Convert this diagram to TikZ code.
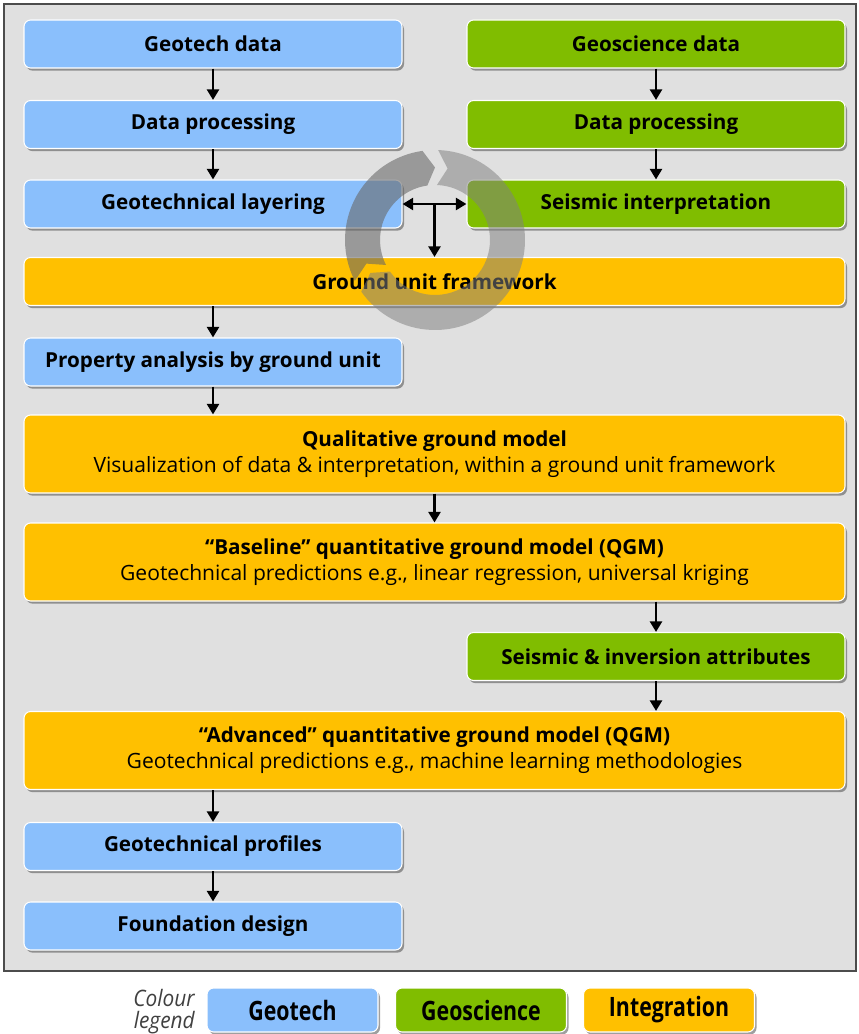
\documentclass[tikz,border=0pt]{standalone}
\usepackage{fontspec}
\setmainfont{Open Sans}
\newfontfamily\legendfont[FakeStretch=0.8]{Open Sans}
\newfontfamily\captionfont[FakeStretch=0.92]{Open Sans}
\usepackage{tikz}
\usetikzlibrary{arrows.meta,calc,shadows}
\definecolor{geotechBlue}{RGB}{138,191,252}
\definecolor{geoscienceGreen}{RGB}{128,189,0}
\definecolor{integrationOrange}{RGB}{255,192,0}
\definecolor{panelGrey}{RGB}{224,224,224}
\newcommand{\boxWidth}{283.5pt}
\newcommand{\fullWidth}{615.75pt}

\tikzset{
	stepBox/.style={rounded corners=5pt, draw=white, line width=0.8pt, minimum height=36pt, inner sep=2pt, align=center,
		font=\bfseries\fontsize{15.5}{19.5}\selectfont,
		drop shadow={shadow xshift=1.5pt, shadow yshift=-2pt, opacity=0.5, fill=black!75}},
	geotechBox/.style={stepBox, fill=geotechBlue, minimum width=\boxWidth},
	geoscienceBox/.style={stepBox, fill=geoscienceGreen, minimum width=\boxWidth},
	integrationBox/.style={stepBox, fill=integrationOrange, minimum width=\fullWidth},
	twoLine/.style={minimum height=58.5pt},
	legendKey/.style={minimum width=128.25pt, minimum height=33pt, font=\legendfont\bfseries\fontsize{20}{22}\selectfont},
	flowArrow/.style={-{Triangle[length=8pt,width=9pt]}, line width=2.2pt},
	flowBoth/.style={{Triangle[length=8pt,width=9pt]}-{Triangle[length=8pt,width=9pt]}, line width=2.2pt},
}

\begin{document}
\begin{tikzpicture}[x=0.75pt, y=-0.75pt]
	\useasboundingbox (0,0) rectangle (859,1034);
	% background panel
	\draw[fill=panelGrey, draw=black!70, line width=1pt] (4,4) rectangle (856,971);

	% geotech column
	\node[geotechBox] (geotechData) at (213,44) {Geotech data};
	\node[geotechBox] (geotechProc) at (213,124.5) {Data processing};
	\node[geotechBox] (geotechLayer) at (213,204) {Geotechnical layering};
	% geoscience column
	\node[geoscienceBox] (sciData) at (656,44) {Geoscience data};
	\node[geoscienceBox] (sciProc) at (656,124.5) {Data processing};
	\node[geoscienceBox] (sciInterp) at (656,204) {Seismic interpretation};

	\node[integrationBox] (unitFramework) at (434.5,281.5) {Ground unit framework};
	\node[geotechBox] (propAnalysis) at (213,362) {Property analysis by ground unit};
	\node[integrationBox, twoLine] (qualModel) at (434.5,454) {Qualitative ground model\\{\mdseries\fontsize{15.8}{19.5}\selectfont Visualization of data \& interpretation, within a ground unit framework}};
	\node[integrationBox, twoLine] (baseModel) at (434.5,562) {“Baseline” quantitative ground model (QGM)\\{\mdseries\fontsize{15.8}{19.5}\selectfont Geotechnical predictions e.g., linear regression, universal kriging}};
	\node[geoscienceBox] (inversion) at (656,656.5) {Seismic \& inversion attributes};
	\node[integrationBox, twoLine] (advModel) at (434.5,750.5) {“Advanced” quantitative ground model (QGM)\\{\mdseries\fontsize{15.8}{19.5}\selectfont Geotechnical predictions e.g., machine learning methodologies}};
	\node[geotechBox] (geoProfiles) at (213,846.5) {Geotechnical profiles};
	\node[geotechBox] (foundation) at (213,926) {Foundation design};

	% iteration ring
	\begin{scope}[shift={(435,240)}]
		\fill[black!60, opacity=0.58] (207:67.5pt) arc[start angle=207, end angle=98, radius=67.5pt] -- (90:54.4pt)
			-- (98:41.25pt) arc[start angle=98, end angle=207, radius=41.25pt] -- (199:54.4pt) -- cycle;
		\fill[black!50, opacity=0.52] (88:67.5pt) arc[start angle=88, end angle=-145, radius=67.5pt] -- (-153:54.4pt)
			-- (-145:41.25pt) arc[start angle=-145, end angle=88, radius=41.25pt] -- (80:54.4pt) -- cycle;
	\end{scope}

	% connectors
	\draw[flowArrow] (geotechData) -- (geotechProc);
	\draw[flowArrow] (geotechProc) -- (geotechLayer);
	\draw[flowArrow] (sciData) -- (sciProc);
	\draw[flowArrow] (sciProc) -- (sciInterp);
	\draw[flowBoth] (geotechLayer) -- (sciInterp);
	\coordinate (junction) at ($(geotechLayer.east)!0.5!(sciInterp.west)$);
	\draw[flowArrow] (junction) -- (junction |- unitFramework.north);
	\draw[flowArrow] (unitFramework.south -| propAnalysis) -- (propAnalysis);
	\draw[flowArrow] (propAnalysis) -- (propAnalysis |- qualModel.north);
	\draw[flowArrow] (qualModel) -- (baseModel);
	\draw[flowArrow] (baseModel.south -| inversion) -- (inversion);
	\draw[flowArrow] (inversion) -- (inversion |- advModel.north);
	\draw[flowArrow] (advModel.south -| geoProfiles) -- (geoProfiles);
	\draw[flowArrow] (geoProfiles) -- (foundation);

	% legend
	\node[anchor=east, align=right, inner sep=0pt, text=black!75, font=\captionfont\itshape\fontsize{17}{16.5}\selectfont] (legendLabel) at (195,1012) {Colour\\legend};
	\node[geotechBox, legendKey] (keyGeotech) at (292.5,1010) {Geotech};
	\node[geoscienceBox, legendKey] (keyGeoscience) at (481,1010) {Geoscience};
	\node[integrationBox, legendKey] (keyIntegration) at (669,1010) {Integration};
\end{tikzpicture}
\end{document}
